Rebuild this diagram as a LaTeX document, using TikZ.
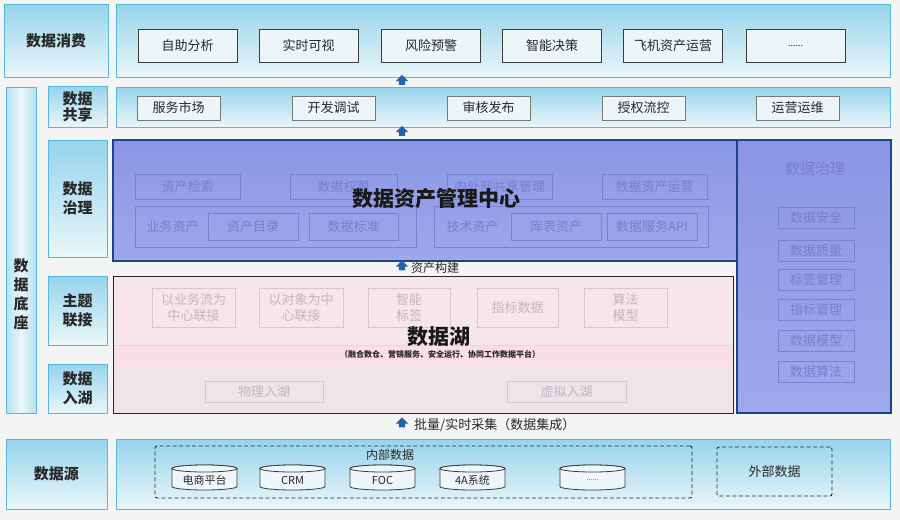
\documentclass[tikz,border=0pt]{standalone}
\usepackage{fontspec}
\setmainfont{Noto Sans CJK SC}
\usetikzlibrary{shapes.arrows}
\definecolor{bg}{RGB}{243,245,245}
\definecolor{pantop}{RGB}{150,212,236}
\definecolor{panbot}{RGB}{234,246,249}
\definecolor{panborder}{RGB}{88,184,220}
\definecolor{txtdark}{RGB}{40,40,40}
\definecolor{itemborder}{RGB}{60,60,60}
\definecolor{shareborder}{RGB}{120,120,120}
\definecolor{itemfill}{RGB}{236,245,248}
\definecolor{govtop}{RGB}{138,150,230}
\definecolor{govbot}{RGB}{160,168,236}
\definecolor{govborder}{RGB}{28,70,128}
\definecolor{govtext}{RGB}{118,128,206}
\definecolor{govline}{RGB}{120,130,210}
\definecolor{lakefill}{RGB}{246,229,235}
\definecolor{lakeband}{RGB}{250,222,230}
\definecolor{lakelow}{RGB}{240,228,234}
\definecolor{laketext}{RGB}{196,180,190}
\definecolor{lakeline}{RGB}{214,198,207}
\definecolor{arrowblue}{RGB}{38,98,170}
\definecolor{cylfill}{RGB}{238,246,249}
\tikzset{
  wh/.style 2 args={minimum width=#1pt,minimum height=#2pt},
  panel/.style={rectangle,draw=panborder,line width=0.9pt,top color=pantop,bottom color=panbot},
  sidelabel/.style={panel,font=\fontsize{15}{19}\selectfont\bfseries,text=txtdark,align=center},
  itembox/.style={rectangle,draw=itemborder,line width=0.9pt,fill=itemfill,font=\fontsize{13}{15}\selectfont,text=txtdark},
  sharebox/.style={rectangle,draw=shareborder,line width=0.8pt,fill=itemfill,font=\fontsize{13}{15}\selectfont,text=txtdark},
  govbox/.style={rectangle,draw=govline,line width=0.6pt,font=\fontsize{13}{15}\selectfont,text=govtext},
  lakebox/.style={rectangle,draw=lakeline,line width=0.6pt,font=\fontsize{13}{16}\selectfont,text=laketext,align=center},
  uparrow/.style={single arrow,shape border rotate=90,fill=arrowblue,minimum height=10pt,minimum width=12pt,single arrow head extend=3pt,single arrow head indent=0pt,inner sep=3pt},
  dashbox/.style={rectangle,draw=txtdark,dashed,dash pattern=on 4pt off 2.5pt,line width=0.9pt,rounded corners=2pt},
  cylline/.style={draw=itemborder,line width=0.8pt,fill=cylfill}
}
\newcommand\dbcyl[3]{%
  \draw[cylline] (#2-32.5,468.5) -- (#2-32.5,486.5)
    arc[start angle=180,end angle=0,x radius=32.5,y radius=3.5]
    -- (#2+32.5,468.5)
    arc[start angle=0,end angle=-180,x radius=32.5,y radius=3.5] -- cycle;
  \draw[cylline] (#2,468.5) ellipse[x radius=32.5,y radius=3.5];
  \node[font=\fontsize{11}{13}\selectfont,text=txtdark,wh={65}{18}] (#1) at (#2,480) {#3};
}
\begin{document}
\begin{tikzpicture}[x=1pt,y=-1pt,every node/.style={inner sep=0pt}]
\useasboundingbox (0,0) rectangle (900,520);
\fill[bg] (0,0) rectangle (900,520);

% ---- data consumption
\node[sidelabel,wh={104}{73}] (consL) at (56,40.5) {数据消费};
\node[panel,wh={774}{73}] (consP) at (503,40.5) {};
\node[itembox,wh={99}{33}] (c1) at (187.5,45.5) {自助分析};
\node[itembox,wh={99}{33}] (c2) at (308.5,45.5) {实时可视};
\node[itembox,wh={99}{33}] (c3) at (431,45.5) {风险预警};
\node[itembox,wh={99}{33}] (c4) at (552,45.5) {智能决策};
\node[itembox,wh={99}{33}] (c5) at (673,45.5) {飞机资产运营};
\node[itembox,wh={99}{33}] (c6) at (795.5,45.5) {\fontsize{9}{10}\selectfont ......};

\node[uparrow] (ar1) at (402,81.5) {};

% ---- base column
\node[rectangle,draw=panborder,line width=0.9pt,left color=pantop!70,right color=pantop!70,middle color=panbot,wh={30}{326}] (base) at (21,250) {};
\node[font=\fontsize{15}{19}\selectfont\bfseries,text=txtdark,align=center] (baseT) at (21,294) {数\\据\\底\\座};

% ---- data sharing
\node[sidelabel,wh={59}{41}] (shareL) at (77.5,106.5) {数据\\[-3pt]共享};
\node[panel,wh={774}{40}] (shareP) at (503,107) {};
\node[sharebox,wh={83}{24}] (s1) at (178.5,108) {服务市场};
\node[sharebox,wh={83}{24}] (s2) at (333.5,108) {开发调试};
\node[sharebox,wh={83}{24}] (s3) at (488.5,108) {审核发布};
\node[sharebox,wh={83}{24}] (s4) at (643.5,108) {授权流控};
\node[sharebox,wh={83}{24}] (s5) at (797.5,108) {运营运维};

\node[uparrow] (ar2) at (402,132.5) {};

% ---- side labels
\node[sidelabel,wh={59}{117}] (govL) at (77.5,198.5) {数据\\治理};
\node[sidelabel,wh={59}{69}] (topicL) at (77.5,310.5) {主题\\联接};
\node[sidelabel,wh={59}{49}] (inL) at (77.5,388.5) {数据\\入湖};

% ---- governance centre
\node[rectangle,draw=govborder,line width=1.4pt,top color=govtop,bottom color=govbot,wh={624}{121}] (govP) at (425,200.5) {};
\node[govbox,wh={105}{25}] (g1) at (187.5,186.5) {资产检索};
\node[govbox,wh={107}{25}] (g2) at (343.5,186.5) {数据权限};
\node[govbox,wh={105}{25}] (g3) at (499.5,186.5) {内外部共享管理};
\node[govbox,wh={105}{25}] (g4) at (654.5,186.5) {数据资产运营};
\node[govbox,wh={281}{41}] (gA) at (275.5,226.5) {};
\node[govbox,wh={274}{41}] (gB) at (571,226.5) {};
\node[font=\fontsize{13}{15}\selectfont,text=govtext] (gAt) at (172.5,226.5) {业务资产};
\node[govbox,wh={90}{27}] (g5) at (253,226.5) {资产目录};
\node[govbox,wh={89}{27}] (g6) at (353.5,226.5) {数据标准};
\node[font=\fontsize{13}{15}\selectfont,text=govtext] (gBt) at (472.5,226.5) {技术资产};
\node[govbox,wh={90}{27}] (g7) at (556,226.5) {库表资产};
\node[govbox,wh={90}{27}] (g8) at (652,226.5) {数据服务API};
\node[font=\fontsize{21}{24}\selectfont\bfseries,text=black!90] (govT) at (436.5,199) {数据资产管理中心};

% ---- governance right column
\node[rectangle,draw=govborder,line width=1.4pt,top color=govtop,bottom color=govbot,wh={154}{273}] (govR) at (814,276.5) {};
\node[font=\fontsize{15}{17}\selectfont,text=govtext] (govRT) at (815,169) {数据治理};
\node[govbox,wh={76}{21}] (r1) at (816,218) {数据安全};
\node[govbox,wh={76}{21}] (r2) at (816,250.5) {数据质量};
\node[govbox,wh={76}{21}] (r3) at (816,280) {标签管理};
\node[govbox,wh={76}{21}] (r4) at (816,310) {指标管理};
\node[govbox,wh={76}{21}] (r5) at (816,341) {数据模型};
\node[govbox,wh={76}{21}] (r6) at (816,371.5) {数据算法};

% ---- asset build arrow
\node[uparrow] (ar3) at (402,267) {};
\node[anchor=west,font=\fontsize{12}{14}\selectfont,text=txtdark] (arT3) at (411,268) {资产构建};

% ---- data lake
\node[rectangle,fill=lakefill,wh={620}{137}] (lakeP) at (423,344.5) {};
\fill[lakeband] (113,345) rectangle (733,365);
\fill[lakelow] (113,365) rectangle (733,413);
\draw[lakeline!70,line width=0.5pt] (113,345) -- (733,345);
\node[rectangle,draw=txtdark,line width=1pt,wh={620}{137}] (lakeB) at (423,344.5) {};
\node[lakebox,wh={83}{39}] (l1) at (193.5,307.5) {以业务流为\\中心联接};
\node[lakebox,wh={84}{39}] (l2) at (301,307.5) {以对象为中\\心联接};
\node[lakebox,wh={82}{39}] (l3) at (409,307.5) {智能\\标签};
\node[lakebox,wh={81}{39}] (l4) at (517.5,307.5) {指标数据};
\node[lakebox,wh={83}{39}] (l5) at (625.5,307.5) {算法\\模型};
\node[font=\fontsize{21}{24}\selectfont\bfseries,text=black!90] (lakeT) at (439,337) {数据湖};
\node[font=\fontsize{8}{9}\selectfont\bfseries,text=black!85] (lakeS) at (440,354) {（融合数仓、营销服务、安全运行、协同工作数据平台）};
\node[lakebox,wh={118}{21}] (l6) at (264,391.5) {物理入湖};
\node[lakebox,wh={119}{21}] (l7) at (566.5,391.5) {虚拟入湖};

% ---- collection arrow
\node[uparrow] (ar4) at (402,424) {};
\node[anchor=west,font=\fontsize{13}{15}\selectfont,text=txtdark] (arT4) at (414,425) {批量/实时采集（数据集成）};

% ---- data source
\node[sidelabel,wh={101}{70}] (srcL) at (56.5,474) {数据源};
\node[panel,wh={774}{70}] (srcP) at (503,474) {};
\node[dashbox,wh={537}{52}] (inner) at (423.5,472) {};
\node[font=\fontsize{12}{14}\selectfont,text=txtdark] (innerT) at (390,455) {内部数据};
\dbcyl{d1}{204.5}{电商平台}
\dbcyl{d2}{292.5}{CRM}
\dbcyl{d3}{382.5}{FOC}
\dbcyl{d4}{472.5}{4A系统}
\dbcyl{d5}{592.5}{\fontsize{7}{8}\selectfont ......}
\node[dashbox,wh={115}{49}] (outer) at (774.5,471.5) {};
\node[font=\fontsize{13}{15}\selectfont,text=txtdark] (outerT) at (774.5,471.5) {外部数据};
\end{tikzpicture}
\end{document}
